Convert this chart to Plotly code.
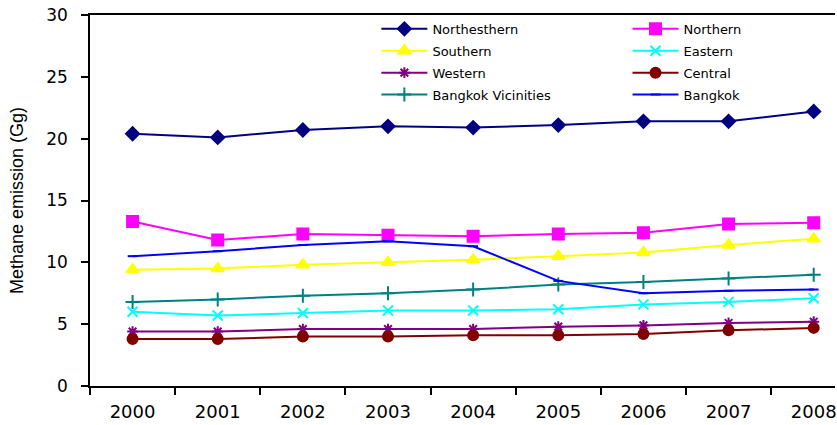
import plotly.graph_objects as go

years = ["2000", "2001", "2002", "2003", "2004", "2005", "2006", "2007", "2008"]

northesthern = [20.4, 20.1, 20.7, 21.0, 20.9, 21.1, 21.4, 21.4, 22.2]
northern = [13.3, 11.8, 12.3, 12.2, 12.1, 12.3, 12.4, 13.1, 13.2]
southern = [9.4, 9.5, 9.8, 10.0, 10.2, 10.5, 10.8, 11.4, 11.9]
eastern = [6.0, 5.7, 5.9, 6.1, 6.1, 6.2, 6.6, 6.8, 7.1]
western = [4.4, 4.4, 4.6, 4.6, 4.6, 4.8, 4.9, 5.1, 5.2]
central = [3.8, 3.8, 4.0, 4.0, 4.1, 4.1, 4.2, 4.5, 4.7]
bkk_vicinities = [6.8, 7.0, 7.3, 7.5, 7.8, 8.2, 8.4, 8.7, 9.0]
bangkok = [10.5, 10.9, 11.4, 11.7, 11.3, 8.5, 7.5, 7.7, 7.8]

# name, values, colour, marker symbol, marker size, legend column
series = [
    ("Northesthern", northesthern, "#000080", "diamond", 10, "legend"),
    ("Northern", northern, "#FF00FF", "square", 11, "legend2"),
    ("Southern", southern, "#FFFF00", "triangle-up", 11, "legend"),
    ("Eastern", eastern, "#00FFFF", "x-thin-open", 10, "legend2"),
    ("Western", western, "#800080", "asterisk-open", 9, "legend"),
    ("Central", central, "#800000", "circle", 10, "legend2"),
    ("Bangkok Vicinities", bkk_vicinities, "#008080", "cross-thin-open", 10, "legend"),
    ("Bangkok", bangkok, "#0000FF", "line-ew-open", 7, "legend2"),
]

fig = go.Figure()
for name, vals, color, symbol, size, leg in series:
    fig.add_trace(go.Scatter(
        x=years, y=vals, name=name, mode="lines+markers",
        legend=leg, legendgroup=name,
        line=dict(color=color, width=2),
        marker=dict(symbol=symbol, size=size, color=color,
                    line=dict(color=color, width=2)),
    ))

tick_font = dict(family="DejaVu Sans, Verdana, sans-serif", size=18, color="black")
legend_common = dict(
    orientation="v", y=1.003, yanchor="top", xanchor="left",
    itemwidth=46, tracegroupgap=2,
    font=dict(family="DejaVu Sans, Verdana, sans-serif", size=13, color="black"),
    bgcolor="rgba(0,0,0,0)", borderwidth=0,
)

fig.update_layout(
    width=837, height=425,
    margin=dict(l=90, r=0, t=15, b=39),
    paper_bgcolor="white", plot_bgcolor="white",
    font=dict(family="Liberation Sans, Arial, sans-serif", color="black"),
    showlegend=True,
    legend=dict(x=0.3844, **legend_common),
    legend2=dict(x=0.7215, **legend_common),
    xaxis=dict(
        type="category", range=[-0.5, 8.25], tickson="boundaries",
        showline=True, linecolor="black", linewidth=1.5, mirror=True,
        ticks="outside", ticklen=7, tickcolor="black", tickwidth=1.5,
        showgrid=False, zeroline=False, tickfont=tick_font, fixedrange=True,
        ticklabelstandoff=9,
    ),
    yaxis=dict(
        range=[0, 30], dtick=5, showline=True, linecolor="black", linewidth=1.5,
        ticks="outside", ticklen=7, tickcolor="black", tickwidth=1.5,
        showgrid=False, zeroline=False,
        tickfont=dict(family="DejaVu Sans, Verdana, sans-serif", size=17, color="black"),
        ticklabelstandoff=10,
        title=dict(text="Methane emission (Gg)", standoff=18,
                   font=dict(family="Liberation Sans, Arial, sans-serif", size=18)),
    ),
)

fig.write_html("out.html")
